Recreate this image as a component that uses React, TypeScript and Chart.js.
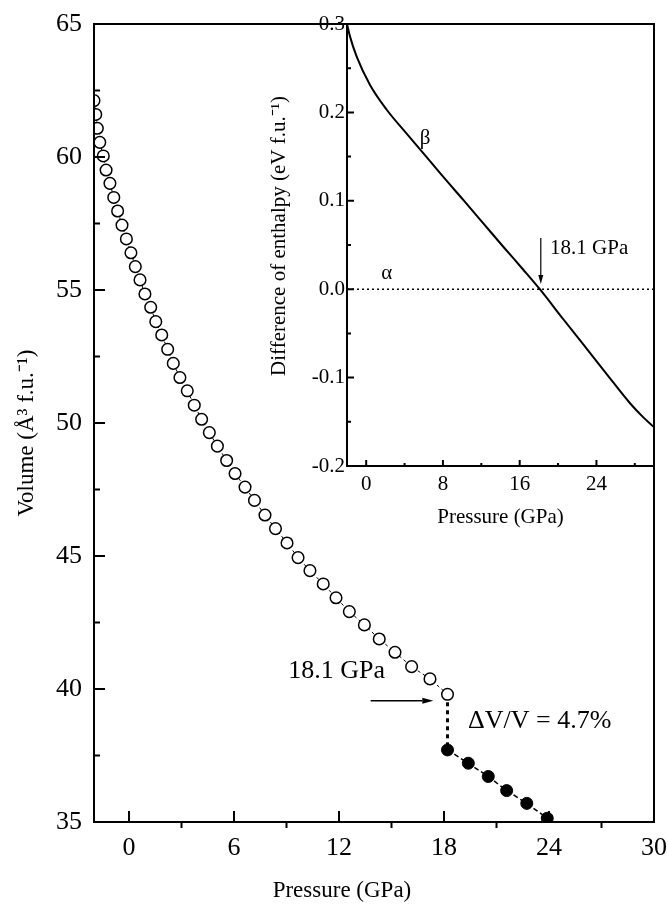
import React, { useEffect, useRef } from "react";
import { Chart, registerables } from "chart.js";

Chart.register(...registerables);

const FONT = "'Liberation Serif', 'Times New Roman', serif";

// ---- main panel data: volume vs pressure ----
const alphaPressure = [
  -2.0, -1.9, -1.81, -1.67, -1.47, -1.31, -1.09, -0.87, -0.65, -0.4, -0.15, 0.11, 0.36, 0.63, 0.91,
  1.24, 1.53, 1.87, 2.21, 2.53, 2.91, 3.33, 3.73, 4.15, 4.59, 5.05, 5.58, 6.06, 6.63, 7.17, 7.77,
  8.37, 9.03, 9.66, 10.34, 11.1, 11.83, 12.59, 13.45, 14.3, 15.2, 16.15, 17.2, 18.2,
];
const alphaVolume = [
  62.12, 61.6, 61.08, 60.55, 60.04, 59.51, 59.01, 58.48, 57.97, 57.44, 56.92, 56.4, 55.88, 55.38, 54.85,
  54.35, 53.81, 53.31, 52.77, 52.24, 51.71, 51.21, 50.67, 50.14, 49.64, 49.13, 48.59, 48.1, 47.59, 47.09,
  46.54, 46.03, 45.49, 44.94, 44.45, 43.95, 43.43, 42.91, 42.41, 41.88, 41.38, 40.84, 40.38, 39.8,
];
const betaPressure = [18.2, 19.39, 20.53, 21.58, 22.73, 23.9];
const betaVolume = [37.71, 37.21, 36.71, 36.18, 35.7, 35.14];
const jumpPressure = [18.2, 18.2];
const jumpVolume = [39.8, 37.71];

const mainXTicks = [0, 6, 12, 18, 24, 30];
const mainXMinor = [3, 9, 15, 21, 27];
const mainYTicks = [35, 40, 45, 50, 55, 60, 65];
const mainYMinor = [37.5, 42.5, 47.5, 52.5, 57.5, 62.5];

// ---- inset data: enthalpy difference vs pressure ----
const insetPressure = [
  -2.0, -1.69, -0.99, 0.4, 2.14, 4.22, 5.95, 8.04, 10.12, 12.21, 14.29, 16.38, 18.1, 20.55, 22.63,
  25.07, 27.5, 28.89, 30.0,
];
const insetEnthalpy = [
  0.3, 0.286, 0.263, 0.231, 0.203, 0.176, 0.154, 0.127, 0.101, 0.0745, 0.048, 0.022, 0.0, -0.034,
  -0.0625, -0.096, -0.129, -0.145, -0.156,
];
const zeroPressure = [-2, 30];
const zeroEnthalpy = [0, 0];

const insetXTicks = [0, 8, 16, 24];
const insetXMinor = [4, 12, 20, 28];
const insetYTicks = [-0.2, -0.1, 0, 0.1, 0.2, 0.3];
const insetYMinor = [-0.15, -0.05, 0.05, 0.15, 0.25];

const pts = (xs: number[], ys: number[]) => xs.map((x, i) => ({ x, y: ys[i] }));

function arrow(ctx: CanvasRenderingContext2D, x1: number, y1: number, x2: number, y2: number, len: number, half: number) {
  const a = Math.atan2(y2 - y1, x2 - x1);
  const bx = x2 - len * Math.cos(a);
  const by = y2 - len * Math.sin(a);
  ctx.beginPath();
  ctx.moveTo(x1, y1);
  ctx.lineTo(bx, by);
  ctx.stroke();
  ctx.beginPath();
  ctx.moveTo(x2, y2);
  ctx.lineTo(bx + half * Math.sin(a), by - half * Math.cos(a));
  ctx.lineTo(bx - half * Math.sin(a), by + half * Math.cos(a));
  ctx.closePath();
  ctx.fill();
}

function tickPlugin(id: string, xMinor: number[], yMinor: number[], cfg: { xMaj: number; xMin: number; yMaj: number; yMin: number; lw: number }) {
  return {
    id,
    afterDraw(chart: any) {
      const { ctx, chartArea: a } = chart;
      const xs = chart.scales.x;
      const ys = chart.scales.y;
      ctx.save();
      ctx.strokeStyle = "#000";
      ctx.lineWidth = cfg.lw;
      ctx.strokeRect(a.left, a.top, a.right - a.left, a.bottom - a.top);
      ctx.beginPath();
      xs.ticks.forEach((t: any) => {
        const px = xs.getPixelForValue(t.value);
        ctx.moveTo(px, a.bottom);
        ctx.lineTo(px, a.bottom - cfg.xMaj);
      });
      xMinor.forEach((v) => {
        const px = xs.getPixelForValue(v);
        ctx.moveTo(px, a.bottom);
        ctx.lineTo(px, a.bottom - cfg.xMin);
      });
      ys.ticks.forEach((t: any) => {
        const py = ys.getPixelForValue(t.value);
        ctx.moveTo(a.left, py);
        ctx.lineTo(a.left + cfg.yMaj, py);
      });
      yMinor.forEach((v) => {
        const py = ys.getPixelForValue(v);
        ctx.moveTo(a.left, py);
        ctx.lineTo(a.left + cfg.yMin, py);
      });
      ctx.stroke();
      ctx.restore();
    },
  };
}

function rotatedText(ctx: CanvasRenderingContext2D, text: string, x: number, y: number) {
  ctx.save();
  ctx.translate(x, y);
  ctx.rotate(-Math.PI / 2);
  ctx.textAlign = "center";
  ctx.textBaseline = "middle";
  ctx.fillText(text, 0, 0);
  ctx.restore();
}

const mainLabels = {
  id: "mainLabels",
  afterDraw(chart: any) {
    const { ctx } = chart;
    const xs = chart.scales.x;
    const ys = chart.scales.y;
    ctx.save();
    ctx.fillStyle = "#000";
    ctx.strokeStyle = "#000";
    // axis titles
    ctx.font = `23px ${FONT}`;
    ctx.textAlign = "center";
    ctx.textBaseline = "middle";
    ctx.fillText("Pressure (GPa)", xs.getPixelForValue(12.17), chart.height - 14);
    rotatedText(ctx, "Volume (\u00c5\u00b3 f.u.\u207b\u00b9)", 27, ys.getPixelForValue(49.62));
    // annotations
    ctx.font = `26px ${FONT}`;
    ctx.textAlign = "left";
    ctx.fillText("18.1 GPa", xs.getPixelForValue(9.1), ys.getPixelForValue(40.68));
    ctx.fillText("\u0394V/V = 4.7%", xs.getPixelForValue(19.37), ys.getPixelForValue(38.8));
    ctx.lineWidth = 1.5;
    arrow(ctx, xs.getPixelForValue(13.81), ys.getPixelForValue(39.56), xs.getPixelForValue(17.39), ys.getPixelForValue(39.56), 11, 3);
    ctx.restore();
  },
};

const insetLabels = {
  id: "insetLabels",
  afterDraw(chart: any) {
    const { ctx } = chart;
    const xs = chart.scales.x;
    const ys = chart.scales.y;
    ctx.save();
    ctx.fillStyle = "#000";
    ctx.strokeStyle = "#000";
    ctx.font = `21px ${FONT}`;
    rotatedText(ctx, "Difference of enthalpy (eV f.u.\u207b\u00b9)", 39, ys.getPixelForValue(0.0602));
    ctx.textAlign = "left";
    ctx.textBaseline = "middle";
    ctx.fillText("18.1 GPa", xs.getPixelForValue(19.17), ys.getPixelForValue(0.0466));
    ctx.textAlign = "center";
    ctx.fillText("\u03b2", xs.getPixelForValue(6.13), ys.getPixelForValue(0.171));
    ctx.fillText("\u03b1", xs.getPixelForValue(2.14), ys.getPixelForValue(0.018));
    ctx.lineWidth = 1.2;
    arrow(ctx, xs.getPixelForValue(18.2), ys.getPixelForValue(0.058), xs.getPixelForValue(18.2), ys.getPixelForValue(0.006), 9, 2.5);
    ctx.restore();
  },
};

export default function App() {
  const mainRef = useRef<HTMLCanvasElement>(null);
  const insetRef = useRef<HTMLCanvasElement>(null);

  useEffect(() => {
    const tickFont = (size: number) => ({ family: FONT, size });
    const main = new Chart(mainRef.current as HTMLCanvasElement, {
      type: "scatter",
      data: {
        datasets: [
          {
            data: pts(alphaPressure, alphaVolume),
            showLine: true,
            borderColor: "#000",
            borderWidth: 1,
            borderDash: [3, 3],
            pointRadius: 5.8,
            pointBorderWidth: 1.5,
            pointBackgroundColor: "#fff",
            pointBorderColor: "#000",
            clip: 0,
            order: 1,
          } as any,
          {
            data: pts(betaPressure, betaVolume),
            showLine: true,
            borderColor: "#000",
            borderWidth: 1.5,
            borderDash: [5, 3],
            pointRadius: 6,
            pointBorderWidth: 1,
            pointBackgroundColor: "#000",
            pointBorderColor: "#000",
            clip: 0,
            order: 2,
          } as any,
          {
            data: pts(jumpPressure, jumpVolume),
            showLine: true,
            borderColor: "#000",
            borderWidth: 3,
            borderDash: [4, 4],
            pointRadius: 0,
            clip: 0,
            order: 3,
          } as any,
        ],
      },
      options: {
        animation: false,
        responsive: false,
        devicePixelRatio: 1,
        layout: { padding: { top: 24, right: 14, left: 0, bottom: 0 } },
        plugins: { legend: { display: false }, tooltip: { enabled: false } },
        scales: {
          x: {
            type: "linear",
            min: -2,
            max: 30,
            grid: { display: false, drawTicks: false },
            border: { display: false },
            ticks: { font: tickFont(26), color: "#000", padding: 11, maxRotation: 0, autoSkip: false },
            afterBuildTicks: (s: any) => {
              s.ticks = mainXTicks.map((v) => ({ value: v }));
            },
            afterFit: (s: any) => {
              s.height = 83;
              s.paddingLeft = 0;
              s.paddingRight = 0;
            },
            title: { display: false },
          } as any,
          y: {
            type: "linear",
            min: 35,
            max: 65,
            grid: { display: false, drawTicks: false },
            border: { display: false },
            ticks: { font: tickFont(26), color: "#000", padding: 12, autoSkip: false },
            afterBuildTicks: (s: any) => {
              s.ticks = mainYTicks.map((v) => ({ value: v }));
            },
            afterFit: (s: any) => {
              s.width = 94;
              s.paddingTop = 0;
              s.paddingBottom = 0;
            },
            title: { display: false },
          } as any,
        },
      },
      plugins: [tickPlugin("mainTicks", mainXMinor, mainYMinor, { xMaj: 11, xMin: -6, yMaj: 11, yMin: 6, lw: 2 }), mainLabels],
    });

    const inset = new Chart(insetRef.current as HTMLCanvasElement, {
      type: "scatter",
      data: {
        datasets: [
          {
            data: pts(insetPressure, insetEnthalpy),
            showLine: true,
            borderColor: "#000",
            borderWidth: 2,
            pointRadius: 0,
            cubicInterpolationMode: "monotone",
            clip: 0,
          } as any,
          {
            data: pts(zeroPressure, zeroEnthalpy),
            showLine: true,
            borderColor: "#000",
            borderWidth: 1.5,
            borderDash: [2, 3],
            pointRadius: 0,
            clip: 0,
          } as any,
        ],
      },
      options: {
        animation: false,
        responsive: false,
        devicePixelRatio: 1,
        layout: { padding: { top: 24, right: 14, left: 0, bottom: 0 } },
        plugins: { legend: { display: false }, tooltip: { enabled: false } },
        scales: {
          x: {
            type: "linear",
            min: -2,
            max: 30,
            grid: { display: false, drawTicks: false },
            border: { display: false },
            ticks: { font: tickFont(21), color: "#000", padding: 6, maxRotation: 0, autoSkip: false },
            afterBuildTicks: (s: any) => {
              s.ticks = insetXTicks.map((v) => ({ value: v }));
            },
            afterFit: (s: any) => {
              s.height = 74;
              s.paddingLeft = 0;
              s.paddingRight = 0;
            },
            title: { display: true, text: "Pressure (GPa)", color: "#000", font: { family: FONT, size: 21 }, padding: { top: 0, bottom: 10 } },
          } as any,
          y: {
            type: "linear",
            min: -0.2,
            max: 0.3,
            grid: { display: false, drawTicks: false },
            border: { display: false },
            ticks: {
              font: tickFont(21),
              color: "#000",
              padding: 2,
              autoSkip: false,
              callback: (v: any) => Number(v).toFixed(1),
            },
            afterBuildTicks: (s: any) => {
              s.ticks = insetYTicks.map((v) => ({ value: v }));
            },
            afterFit: (s: any) => {
              s.width = 107;
              s.paddingTop = 0;
              s.paddingBottom = 0;
            },
            title: { display: false },
          } as any,
        },
      },
      plugins: [tickPlugin("insetTicks", insetXMinor, insetYMinor, { xMaj: 6, xMin: 3, yMaj: 7, yMin: 4, lw: 2 }), insetLabels],
    });

    return () => {
      main.destroy();
      inset.destroy();
    };
  }, []);

  return (
    <div style={{ position: "absolute", left: 0, top: 0, width: 668, height: 905, background: "#fff" }}>
      <canvas ref={mainRef} width={668} height={905} style={{ position: "absolute", left: 0, top: 0, width: 668, height: 905 }} />
      <canvas ref={insetRef} width={428} height={540} style={{ position: "absolute", left: 240, top: 0, width: 428, height: 540 }} />
    </div>
  );
}
